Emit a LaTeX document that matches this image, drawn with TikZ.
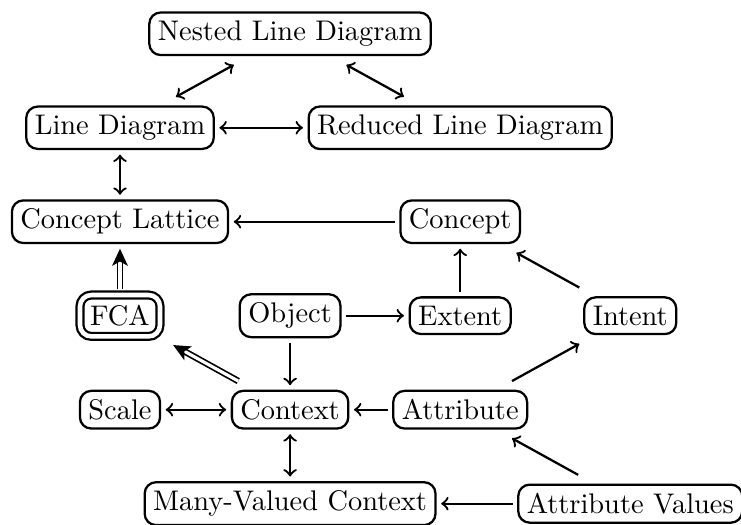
\documentclass[tikz,border=0pt]{standalone}
\usepackage{tikz}
\usetikzlibrary{arrows, arrows.meta, positioning}
\tikzset{
  cbox/.style={draw, rounded corners=4pt, thick, outer sep=2pt, inner sep=3pt},
  fcabox/.style={double, double distance=1.6pt, inner sep=3.6pt},
  short/.style={shorten >=3pt, shorten <=3pt},
  dbl/.style={double, semithick, double distance=1.1pt, -{Stealth[length=6pt, width=5.5pt, inset=1.5pt]}}
}

\begin{document}
\begin{tikzpicture}[>=to, thick, node distance=2.105cm]
\useasboundingbox (-3.59,-1.42) rectangle (5.58,5.07);
\node[cbox] (context) {Context};
\node[cbox, left of=context] (scale) {Scale};
\node[cbox, right of=context] (attribute) {Attribute};
\node[cbox, node distance=1.163cm, above of=context] (object) {Object};
\node[cbox, fcabox, left of=object] (fca) {FCA};
\node[cbox, right of=object] (extent) {Extent};
\node[cbox, right of=extent] (intent) {Intent};
\node[cbox, node distance=1.163cm, above of=extent] (concept) {Concept};
\node[cbox, node distance=1.163cm, above of=fca] (lattice) {Concept Lattice};
\node[cbox, node distance=1.163cm, above of=lattice] (linediag) {Line Diagram};
\node[cbox, node distance=1.163cm, above of=concept] (reduced) {Reduced Line Diagram};
\node[cbox, node distance=3.489cm, above of=object] (nested) {Nested Line Diagram};
\node[cbox, node distance=1.163cm, below of=context] (mvcontext) {Many-Valued Context};
\node[cbox, node distance=4.21cm, right of=mvcontext] (attrvalues) {Attribute Values};
% edges
\draw[<->, short] (nested) -- (linediag);
\draw[<->, short] (nested) -- (reduced);
\draw[<->] (linediag) -- (reduced);
\draw[<->] (linediag) -- (lattice);
\draw[->] (concept) -- (lattice);
\draw[dbl] (fca) -- (lattice);
\draw[dbl, short] (context) -- (fca);
\draw[->] (object) -- (extent);
\draw[->] (extent) -- (concept);
\draw[->, short] (intent) -- (concept);
\draw[->] (object) -- (context);
\draw[->, short] (attribute) -- (intent);
\draw[->] (attribute) -- (context);
\draw[<->] (scale) -- (context);
\draw[<->] (context) -- (mvcontext);
\draw[->] (attrvalues) -- (mvcontext);
\draw[->, short] (attrvalues) -- (attribute);
\end{tikzpicture}
\end{document}
